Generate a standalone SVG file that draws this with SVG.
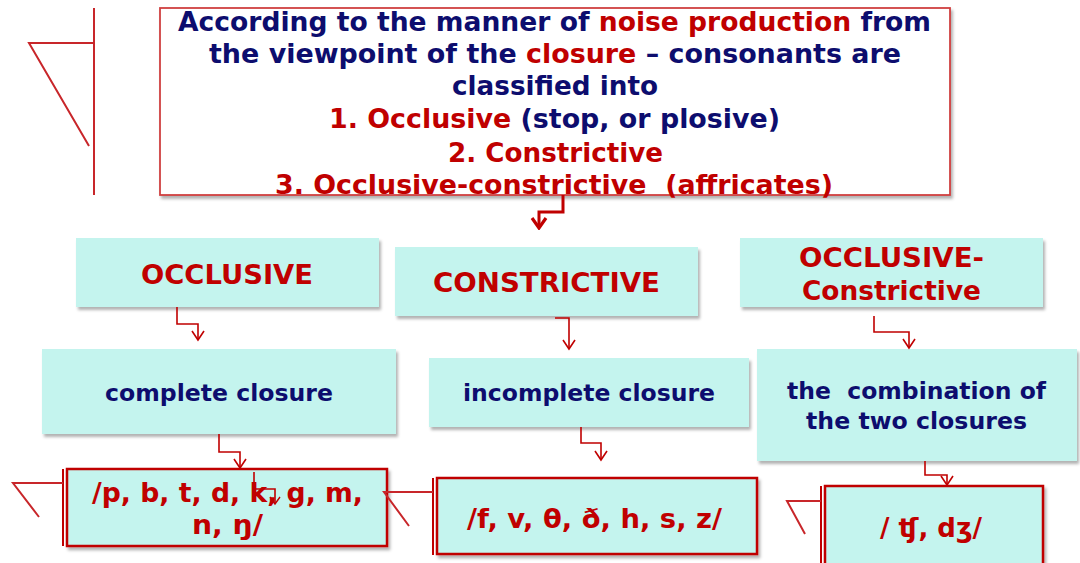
<svg xmlns="http://www.w3.org/2000/svg" width="1080" height="563" viewBox="0 0 1080 563">
<defs>
<filter id="sh" x="-5%" y="-5%" width="115%" height="125%">
<feDropShadow dx="2" dy="3" stdDeviation="1.5" flood-color="#000" flood-opacity="0.3"/>
</filter>
<marker id="ah" viewBox="-11 -8 13 16" markerWidth="13" markerHeight="16" refX="0" refY="0" orient="auto" markerUnits="userSpaceOnUse">
<path d="M-9,-6 L0,0 L-9,6" fill="none" stroke="#c00000" stroke-width="1.6"/>
</marker>
<marker id="ahs" viewBox="-9 -7 11 14" markerWidth="11" markerHeight="14" refX="0" refY="0" orient="auto" markerUnits="userSpaceOnUse">
<path d="M-7,-5 L0,0 L-7,5" fill="none" stroke="#c00000" stroke-width="1.4"/>
</marker>
<marker id="ahb" viewBox="-12 -10 14 20" markerWidth="14" markerHeight="20" refX="0" refY="0" orient="auto" markerUnits="userSpaceOnUse">
<path d="M-10,-7 L0,0 L-10,7" fill="none" stroke="#c00000" stroke-width="3.2"/>
</marker>
</defs>
<style>
text{font-family:"DejaVu Sans",Verdana,"Liberation Sans",sans-serif;font-weight:bold}
.nv{fill:#0d0d6e}
.rd{fill:#c00000}
.cy{fill:#c4f4ee;filter:url(#sh)}
.rb{fill:#c4f4ee;stroke:#c00000;stroke-width:2.5;filter:url(#sh)}
.ln{fill:none;stroke:#c00000;stroke-width:1.6}
.st{fill:none;stroke:#c8262a;stroke-width:2}
.pre{white-space:pre}
</style>

<g id="header">
<rect x="160" y="8" width="790" height="187" fill="#fff" stroke="#d04040" stroke-width="1.8" filter="url(#sh)"/>
<text x="178" y="31" font-size="26" textLength="753" lengthAdjust="spacingAndGlyphs" class="nv">According to the manner of <tspan class="rd">noise production</tspan> from</text>
<text x="209" y="63" font-size="26" textLength="692" lengthAdjust="spacingAndGlyphs" class="nv">the viewpoint of the <tspan class="rd">closure</tspan> – consonants are</text>
<text x="452" y="95" font-size="26" textLength="206" lengthAdjust="spacingAndGlyphs" class="nv">classified into</text>
<text x="329" y="128" font-size="26" textLength="451" lengthAdjust="spacingAndGlyphs" class="nv"><tspan class="rd">1. Occlusive</tspan> (stop, or plosive)</text>
<text x="448" y="162" font-size="26" textLength="215" lengthAdjust="spacingAndGlyphs" class="rd">2. Constrictive</text>
<text x="275" y="194" font-size="26" textLength="558" lengthAdjust="spacingAndGlyphs" class="rd pre">3. Occlusive-constrictive  (affricates)</text>
</g>

<g id="occlusive">
<rect x="76" y="238" width="303" height="69" class="cy"/>
<text x="141" y="284" font-size="27" textLength="172" lengthAdjust="spacingAndGlyphs" class="rd">OCCLUSIVE</text>
</g>
<g id="constrictive">
<rect x="395" y="247" width="303" height="69" class="cy"/>
<text x="433" y="292" font-size="27" textLength="227" lengthAdjust="spacingAndGlyphs" class="rd">CONSTRICTIVE</text>
</g>
<g id="occlusive-constrictive">
<rect x="740" y="238" width="303" height="69" class="cy"/>
<text x="799" y="267" font-size="27" textLength="185" lengthAdjust="spacingAndGlyphs" class="rd">OCCLUSIVE-</text>
<text x="802" y="300" font-size="27" textLength="179" lengthAdjust="spacingAndGlyphs" class="rd">Constrictive</text>
</g>

<g id="complete-closure">
<rect x="42" y="349" width="354" height="85" class="cy"/>
<text x="105" y="401" font-size="23" textLength="228" lengthAdjust="spacingAndGlyphs" class="nv">complete closure</text>
</g>
<g id="incomplete-closure">
<rect x="429" y="358" width="320" height="69" class="cy"/>
<text x="463" y="401" font-size="23" textLength="252" lengthAdjust="spacingAndGlyphs" class="nv">incomplete closure</text>
</g>
<g id="combination">
<rect x="757" y="349" width="320" height="112" class="cy"/>
<text x="787" y="399" font-size="23" textLength="259" lengthAdjust="spacingAndGlyphs" class="nv pre">the  combination of</text>
<text x="806" y="429" font-size="23" textLength="221" lengthAdjust="spacingAndGlyphs" class="nv">the two closures</text>
</g>

<g id="occlusive-sounds">
<rect x="67" y="469" width="320" height="77" class="rb"/>
<line x1="63" y1="469" x2="63" y2="546" stroke="#c00000" stroke-width="2"/>
<text x="92" y="502" font-size="26" textLength="271" lengthAdjust="spacingAndGlyphs" class="rd">/p, b, t, d, k, g, m,</text>
<text x="192" y="534" font-size="26" textLength="71" lengthAdjust="spacingAndGlyphs" class="rd">n, ŋ/</text>
</g>
<g id="constrictive-sounds">
<rect x="437" y="478" width="320" height="76" class="rb"/>
<line x1="433" y1="478" x2="433" y2="555" stroke="#c00000" stroke-width="2"/>
<text x="467" y="528" font-size="26" textLength="255" lengthAdjust="spacingAndGlyphs" class="rd">/f, v, θ, ð, h, s, z/</text>
</g>
<g id="affricate-sounds">
<rect x="825" y="486" width="218" height="82" class="rb"/>
<line x1="821" y1="486" x2="821" y2="563" stroke="#c00000" stroke-width="2"/>
<text x="880" y="537" font-size="26" textLength="102" lengthAdjust="spacingAndGlyphs" class="rd">/ ʧ, dʒ/</text>
</g>

<g id="connectors">
<path d="M563,195 V212 H539 V228" fill="none" stroke="#c00000" stroke-width="3" marker-end="url(#ahb)"/>
<path d="M177,307 V324 H198 V340" class="ln" marker-end="url(#ah)"/>
<path d="M555,318 H569 V349" class="ln" marker-end="url(#ah)"/>
<path d="M874,316 V332 H909 V348" class="ln" marker-end="url(#ah)"/>
<path d="M219,434 V452 H240 V468" class="ln" marker-end="url(#ah)"/>
<path d="M581,427 V443 H601 V460" class="ln" marker-end="url(#ah)"/>
<path d="M925,461 V475 H947 V485" class="ln" marker-end="url(#ah)"/>
<path d="M254,472 V489 H275 V504" class="ln" marker-end="url(#ahs)"/>
<path d="M94,8 V195 M94,43 H29 L89,146" class="st"/>
<path d="M63,483 H13 L39,517" class="st"/>
<path d="M433,492 H384 L409,526" class="st"/>
<path d="M821,501 H787 L805,534" class="st"/>
</g>
</svg>
